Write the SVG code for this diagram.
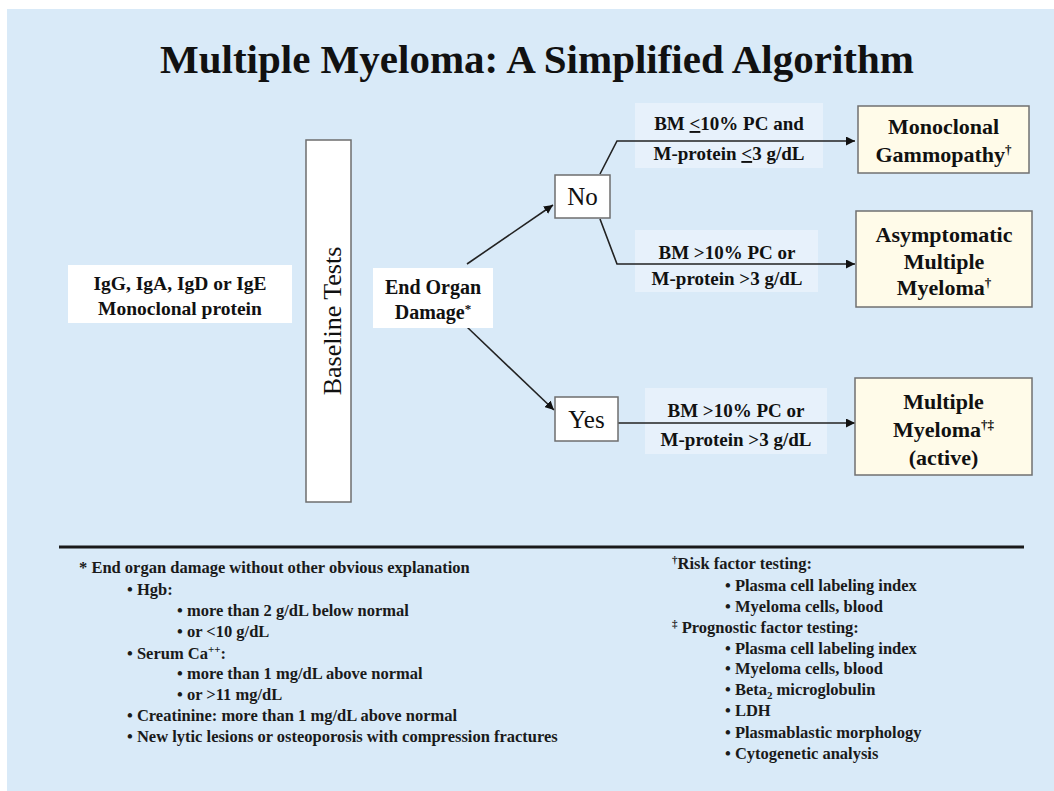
<svg xmlns="http://www.w3.org/2000/svg" width="1054" height="791" viewBox="0 0 1054 791">
<defs>
<style>
.t{font-family:"Liberation Serif","Times New Roman",serif;fill:#111}
.b{font-weight:bold}
.title{font-size:41px;font-weight:bold}
.lbl{font-size:19px;font-weight:bold}
.res{font-size:22px;font-weight:bold}
.yn{font-size:25px}
.fn{font-size:16.5px;font-weight:bold;fill:#1a1a1a}
.wbox{fill:#ffffff;stroke:#6e6e6e;stroke-width:1.5}
.plain{fill:#ffffff}
.cbox{fill:#fffbe9;stroke:#707070;stroke-width:1.5}
.lbox{fill:#e7f1fb}
.conn{fill:none;stroke:#222;stroke-width:1.6}
</style>
<marker id="ah" viewBox="0 0 10 10" refX="10" refY="5" markerWidth="9" markerHeight="9" markerUnits="userSpaceOnUse" orient="auto">
<path d="M0,0 L10,5 L0,10 Z" fill="#111"/>
</marker>
</defs>
<rect x="0" y="0" width="1054" height="791" fill="#ffffff"/>
<rect x="7" y="9" width="1047" height="782" fill="#d9eaf8"/>
<text class="t title" x="537" y="73" text-anchor="middle">Multiple Myeloma: A Simplified Algorithm</text>

<g id="label-boxes">
<rect class="lbox" x="635" y="103" width="188" height="65"/>
<rect class="lbox" x="635" y="230" width="183" height="62"/>
<rect class="lbox" x="645" y="388" width="182" height="66"/>
</g>

<g id="connectors">
<line class="conn" x1="467" y1="264" x2="553" y2="205" marker-end="url(#ah)"/>
<line class="conn" x1="467" y1="327" x2="554" y2="410" marker-end="url(#ah)"/>
<polyline class="conn" points="600,174 617,141 855,141" marker-end="url(#ah)"/>
<polyline class="conn" points="600,219 617,264 855,264" marker-end="url(#ah)"/>
<line class="conn" x1="618" y1="423" x2="855" y2="423" marker-end="url(#ah)"/>
</g>

<g id="igg">
<rect class="plain" x="68" y="265" width="224" height="58"/>
<text class="t b" font-size="19.5" x="180" y="290" text-anchor="middle">IgG, IgA, IgD or IgE</text>
<text class="t b" font-size="19.5" x="180" y="315" text-anchor="middle">Monoclonal protein</text>
</g>

<g id="baseline">
<rect class="wbox" x="306" y="140" width="45" height="362"/>
<text class="t" font-size="26" transform="translate(341,321) rotate(-90)" text-anchor="middle">Baseline Tests</text>
</g>

<g id="endorgan">
<rect class="plain" x="373" y="268" width="120" height="60"/>
<text class="t b" font-size="20" x="433" y="294" text-anchor="middle">End Organ</text>
<text class="t b" font-size="20" x="433" y="319" text-anchor="middle">Damage<tspan font-size="13" dy="-6">*</tspan></text>
</g>

<g id="no">
<rect class="wbox" x="555" y="175" width="55" height="43"/>
<text class="t yn" x="582.5" y="205" text-anchor="middle">No</text>
</g>

<g id="yes">
<rect class="wbox" x="555" y="397" width="63" height="44"/>
<text class="t yn" x="586.5" y="428" text-anchor="middle">Yes</text>
</g>

<g id="label-texts">
<text class="t lbl" x="729" y="130" text-anchor="middle">BM <tspan text-decoration="underline">&lt;</tspan>10% PC and</text>
<text class="t lbl" x="729" y="160" text-anchor="middle">M-protein <tspan text-decoration="underline">&lt;</tspan>3 g/dL</text>
<text class="t lbl" x="727" y="259" text-anchor="middle">BM &gt;10% PC or</text>
<text class="t lbl" x="727" y="285" text-anchor="middle">M-protein &gt;3 g/dL</text>
<text class="t lbl" x="736" y="417" text-anchor="middle">BM &gt;10% PC or</text>
<text class="t lbl" x="736" y="446" text-anchor="middle">M-protein &gt;3 g/dL</text>
</g>

<g id="mgus">
<rect class="cbox" x="858" y="106" width="171" height="67"/>
<text class="t res" x="943.5" y="134" text-anchor="middle">Monoclonal</text>
<text class="t res" x="943.5" y="162" text-anchor="middle">Gammopathy<tspan font-size="13" dy="-8">†</tspan></text>
</g>

<g id="smm">
<rect class="cbox" x="856" y="211" width="176" height="96"/>
<text class="t res" x="944" y="242" text-anchor="middle">Asymptomatic</text>
<text class="t res" x="944" y="269" text-anchor="middle">Multiple</text>
<text class="t res" x="944" y="295" text-anchor="middle">Myeloma<tspan font-size="13" dy="-8">†</tspan></text>
</g>

<g id="mm">
<rect class="cbox" x="855" y="378" width="177" height="97"/>
<text class="t res" x="943.5" y="409" text-anchor="middle">Multiple</text>
<text class="t res" x="943.5" y="437" text-anchor="middle">Myeloma<tspan font-size="13" dy="-8">†‡</tspan></text>
<text class="t res" x="943.5" y="465" text-anchor="middle">(active)</text>
</g>

<line x1="59" y1="547" x2="1024" y2="547" stroke="#1a1a1a" stroke-width="3"/>

<g id="footnote-left">
<text class="t fn" x="79" y="573">* End organ damage without other obvious explanation</text>
<text class="t fn" x="127" y="595">• Hgb:</text>
<text class="t fn" x="177" y="616">• more than 2 g/dL below normal</text>
<text class="t fn" x="177" y="637">• or &lt;10 g/dL</text>
<text class="t fn" x="127" y="659">• Serum Ca<tspan font-size="11" dy="-6">++</tspan><tspan dy="6">:</tspan></text>
<text class="t fn" x="177" y="679">• more than 1 mg/dL above normal</text>
<text class="t fn" x="177" y="700">• or &gt;11 mg/dL</text>
<text class="t fn" x="127" y="721">• Creatinine: more than 1 mg/dL above normal</text>
<text class="t fn" x="127" y="742">• New lytic lesions or osteoporosis with compression fractures</text>
</g>

<g id="footnote-right">
<text class="t fn" x="672" y="569"><tspan font-size="11" dy="-6">†</tspan><tspan dy="6">Risk factor testing:</tspan></text>
<text class="t fn" x="725" y="591">• Plasma cell labeling index</text>
<text class="t fn" x="725" y="612">• Myeloma cells, blood</text>
<text class="t fn" x="672" y="633"><tspan font-size="11" dy="-6">‡</tspan><tspan dy="6"> Prognostic factor testing:</tspan></text>
<text class="t fn" x="725" y="654">• Plasma cell labeling index</text>
<text class="t fn" x="725" y="674">• Myeloma cells, blood</text>
<text class="t fn" x="725" y="695">• Beta<tspan font-size="11" dy="4">2</tspan><tspan dy="-4"> microglobulin</tspan></text>
<text class="t fn" x="725" y="716">• LDH</text>
<text class="t fn" x="725" y="738">• Plasmablastic morphology</text>
<text class="t fn" x="725" y="759">• Cytogenetic analysis</text>
</g>
</svg>
